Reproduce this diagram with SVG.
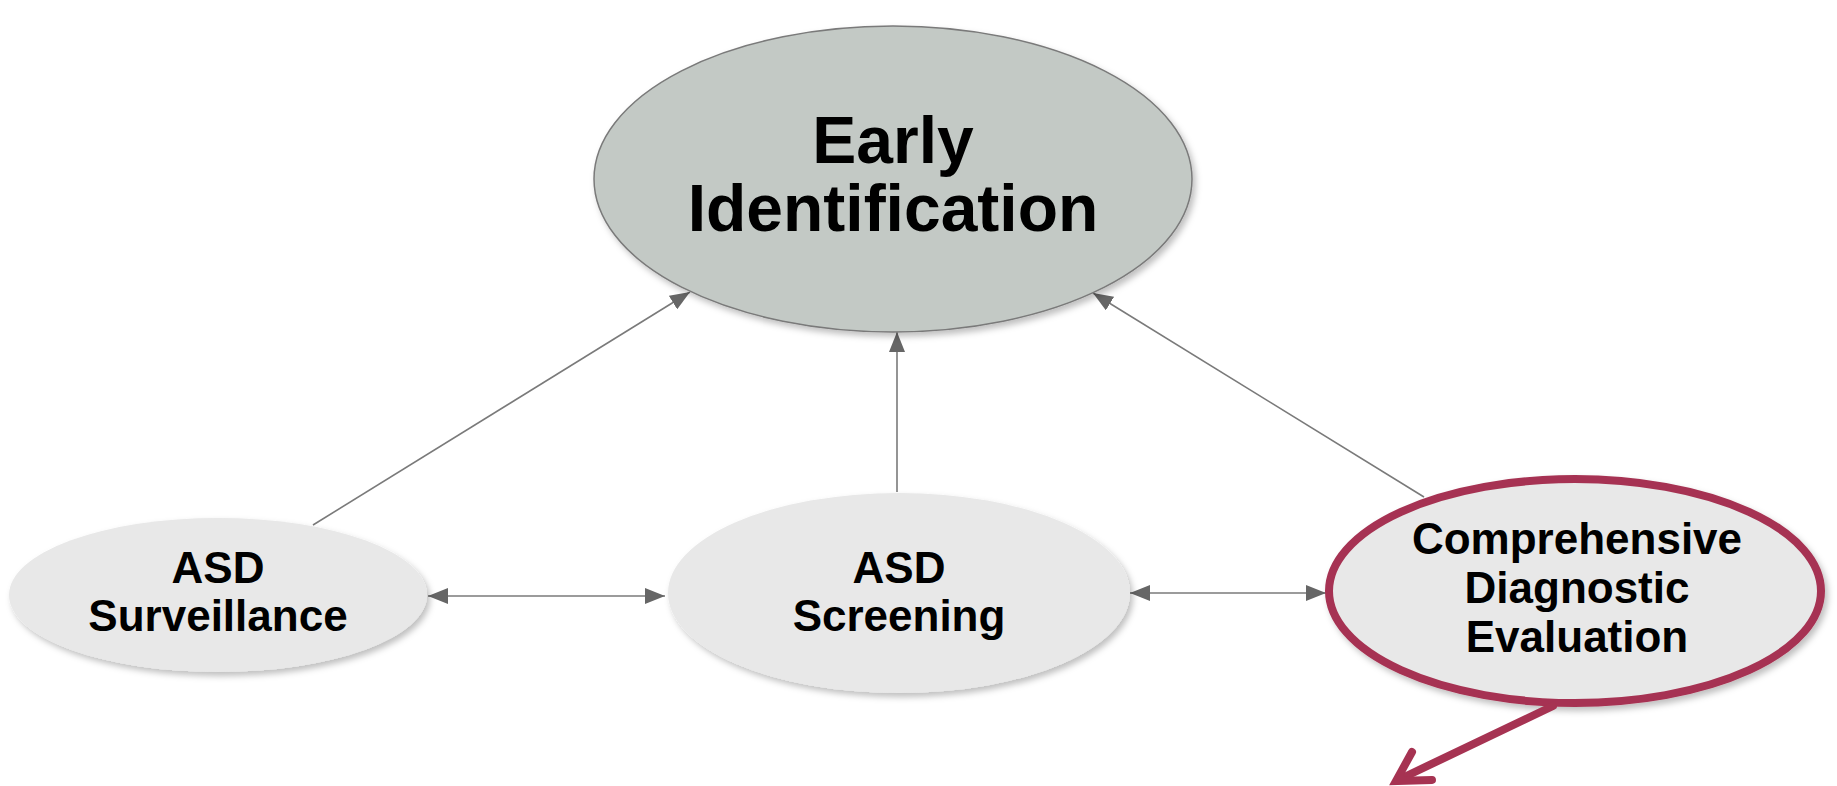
<svg xmlns="http://www.w3.org/2000/svg" width="1837" height="786" viewBox="0 0 1837 786">
  <style>
    .lbl { font-family: "Liberation Sans", Arial, sans-serif; font-weight: bold; fill: #000; text-anchor: middle; }
    .big { font-size: 66px; }
    .small { font-size: 44px; }
    .conn { stroke: #7a7a7a; stroke-width: 1.6; fill: none; }
    .node { fill: #e8e8e8; }
  </style>
  <defs>
    <filter id="shadow" x="-10%" y="-10%" width="125%" height="130%">
      <feDropShadow dx="3" dy="4" stdDeviation="3" flood-color="#000" flood-opacity="0.25"/>
    </filter>
    <marker id="arr" viewBox="0 0 20 16" refX="20" refY="8" markerWidth="20" markerHeight="16" markerUnits="userSpaceOnUse" orient="auto-start-reverse">
      <path d="M0,0 L20,8 L0,16 Z" fill="#666"/>
    </marker>
  </defs>

  <g id="connectors">
    <line class="conn" x1="313" y1="525" x2="690" y2="292" marker-end="url(#arr)"/>
    <line class="conn" x1="897" y1="492" x2="897" y2="332" marker-end="url(#arr)"/>
    <line class="conn" x1="1424" y1="497" x2="1093" y2="293" marker-end="url(#arr)"/>
    <line class="conn" x1="428" y1="596" x2="665" y2="596" marker-start="url(#arr)" marker-end="url(#arr)"/>
    <line class="conn" x1="1130" y1="593" x2="1326" y2="593" marker-start="url(#arr)" marker-end="url(#arr)"/>
  </g>

  <g id="early-identification">
    <ellipse cx="893" cy="179" rx="299" ry="153" fill="#c3c9c5" stroke="#7a7a7a" stroke-width="1.5" filter="url(#shadow)"/>
    <text class="lbl big" x="893" y="163">Early</text>
    <text class="lbl big" x="893" y="231">Identification</text>
  </g>

  <g id="asd-surveillance">
    <ellipse class="node" cx="218" cy="595" rx="209" ry="77" filter="url(#shadow)"/>
    <text class="lbl small" x="218" y="583">ASD</text>
    <text class="lbl small" x="218" y="631">Surveillance</text>
  </g>

  <g id="asd-screening">
    <ellipse class="node" cx="899" cy="593" rx="231" ry="100" filter="url(#shadow)"/>
    <text class="lbl small" x="899" y="583">ASD</text>
    <text class="lbl small" x="899" y="631">Screening</text>
  </g>

  <g id="comprehensive-diagnostic-evaluation">
    <ellipse class="node" cx="1575" cy="591" rx="246" ry="112" stroke="#a63352" stroke-width="8" filter="url(#shadow)"/>
    <text class="lbl small" x="1577" y="554">Comprehensive</text>
    <text class="lbl small" x="1577" y="603">Diagnostic</text>
    <text class="lbl small" x="1577" y="652">Evaluation</text>
  </g>

  <g id="highlight-arrow">
    <line x1="1553" y1="706" x2="1398" y2="780" stroke="#a63352" stroke-width="8" stroke-linecap="round"/>
    <polyline points="1412,752 1396,781 1432,780" fill="none" stroke="#a63352" stroke-width="8" stroke-linecap="round" stroke-linejoin="miter"/>
  </g>
</svg>
